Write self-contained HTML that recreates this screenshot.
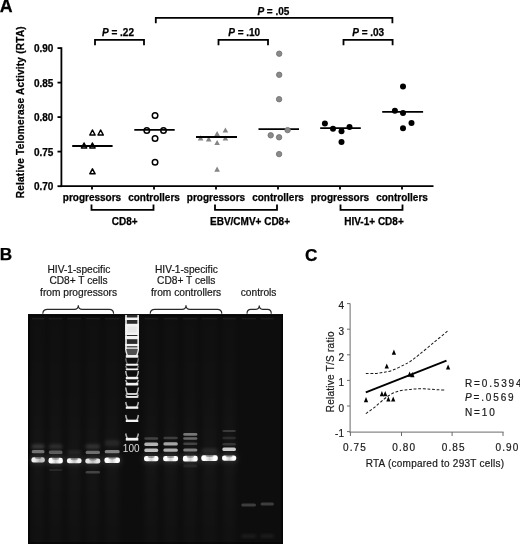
<!DOCTYPE html>
<html><head><meta charset="utf-8">
<style>
html,body{margin:0;padding:0;background:#fff;}
body{width:520px;height:544px;overflow:hidden;}
svg{display:block;}
.b{font-family:"Liberation Sans",Arial,sans-serif;font-weight:bold;font-size:10px;fill:#000;stroke:#000;stroke-width:0.25px;}
.r{font-family:"Liberation Sans",Arial,sans-serif;font-size:10px;fill:#1a1a1a;stroke:#1a1a1a;stroke-width:0.2px;}
</style></head>
<body>
<svg width="520" height="544" viewBox="0 0 520 544">
<defs>
<filter id="bl1" x="-50%" y="-50%" width="200%" height="200%"><feGaussianBlur stdDeviation="0.75"/></filter>
<filter id="bl2" x="-50%" y="-50%" width="200%" height="200%"><feGaussianBlur stdDeviation="1.6"/></filter>
<filter id="bl3" x="-50%" y="-100%" width="200%" height="300%"><feGaussianBlur stdDeviation="2.6"/></filter>
<filter id="bl0" x="-50%" y="-50%" width="200%" height="200%"><feGaussianBlur stdDeviation="0.5"/></filter>
<linearGradient id="sm" x1="0" y1="0" x2="1" y2="0">
  <stop offset="0" stop-color="#fff"/><stop offset="0.22" stop-color="#fff"/><stop offset="0.5" stop-color="#cfcfcf"/><stop offset="0.78" stop-color="#fff"/><stop offset="1" stop-color="#fff"/>
</linearGradient>
<linearGradient id="smL" x1="0" y1="0" x2="1" y2="0">
  <stop offset="0" stop-color="#fff"/><stop offset="0.25" stop-color="#fff"/><stop offset="0.6" stop-color="#c4c4c4"/><stop offset="1" stop-color="#dadada"/>
</linearGradient>
<linearGradient id="lg" x1="0" y1="0" x2="0" y2="1">
  <stop offset="0" stop-color="#fff" stop-opacity="0.01"/><stop offset="0.4" stop-color="#fff" stop-opacity="0.02"/><stop offset="0.6" stop-color="#fff" stop-opacity="0.035"/><stop offset="0.8" stop-color="#fff" stop-opacity="0.025"/><stop offset="1" stop-color="#fff" stop-opacity="0.015"/>
</linearGradient>
</defs>

<!-- ============ PANEL A ============ -->
<text class="b" x="-0.3" y="12.3" style="font-size:17.8px">A</text>

<!-- y axis label -->
<text class="b" transform="translate(24.4,112.2) rotate(-90)" text-anchor="middle" style="font-size:10px;letter-spacing:0.25px">Relative Telomerase Activity (RTA)</text>

<g stroke="#000" stroke-width="1.8" fill="none">
  <line x1="61.4" y1="47.2" x2="61.4" y2="187.1"/>
  <line x1="60.5" y1="186.2" x2="433.5" y2="186.2"/>
  <!-- y ticks -->
  <line x1="57.5" y1="48.1" x2="61" y2="48.1"/>
  <line x1="57.5" y1="82.6" x2="61" y2="82.6"/>
  <line x1="57.5" y1="117.1" x2="61" y2="117.1"/>
  <line x1="57.5" y1="151.6" x2="61" y2="151.6"/>
  <line x1="57.5" y1="186.2" x2="61" y2="186.2"/>
  <!-- x ticks -->
  <line x1="92" y1="186" x2="92" y2="189.5"/>
  <line x1="154" y1="186" x2="154" y2="189.5"/>
  <line x1="216" y1="186" x2="216" y2="189.5"/>
  <line x1="278" y1="186" x2="278" y2="189.5"/>
  <line x1="340" y1="186" x2="340" y2="189.5"/>
  <line x1="402" y1="186" x2="402" y2="189.5"/>
  <!-- bottom group brackets -->
  <polyline points="91.5,204.5 91.5,209.8 153.5,209.8 153.5,204.5"/>
  <polyline points="215,204.5 215,209.8 277,209.8 277,204.5"/>
  <polyline points="340.5,204.5 340.5,209.8 402.5,209.8 402.5,204.5"/>
  <!-- top p-value brackets -->
  <polyline points="95,45.2 95,39.8 144,39.8 144,45.2"/>
  <polyline points="218.5,45.2 218.5,39.8 268,39.8 268,45.2"/>
  <polyline points="343.5,45.2 343.5,39.8 392.6,39.8 392.6,45.2"/>
  <polyline points="155.8,23.2 155.8,17.8 392.4,17.8 392.4,23.2"/>
  <!-- medians -->
  <line x1="72.2" y1="146" x2="112.6" y2="146"/>
  <line x1="134.3" y1="129.9" x2="174.7" y2="129.9"/>
  <line x1="196" y1="137" x2="237" y2="137"/>
  <line x1="258.5" y1="129.1" x2="299" y2="129.1"/>
  <line x1="320.2" y1="128.1" x2="360.8" y2="128.1"/>
  <line x1="382.2" y1="111.8" x2="423.1" y2="111.8"/>
</g>

<!-- y tick labels -->
<g class="b" text-anchor="end">
  <text x="53.4" y="52.3">0.90</text>
  <text x="53.4" y="86.8">0.85</text>
  <text x="53.4" y="121.3">0.80</text>
  <text x="53.4" y="155.8">0.75</text>
  <text x="53.4" y="190.3">0.70</text>
</g>
<!-- x category labels -->
<g class="b" text-anchor="middle">
  <text x="92" y="200.8">progressors</text>
  <text x="154" y="200.8">controllers</text>
  <text x="216" y="200.8">progressors</text>
  <text x="278" y="200.8">controllers</text>
  <text x="340" y="200.8">progressors</text>
  <text x="402" y="200.8">controllers</text>
  <text x="124.7" y="225">CD8+</text>
  <text x="250" y="225">EBV/CMV+ CD8+</text>
  <text x="374" y="225">HIV-1+ CD8+</text>
  <text x="118" y="35.8"><tspan font-style="italic">P</tspan> = .22</text>
  <text x="244.2" y="35.8"><tspan font-style="italic">P</tspan> = .10</text>
  <text x="368.2" y="35.8"><tspan font-style="italic">P</tspan> = .03</text>
  <text x="273.4" y="14.8"><tspan font-style="italic">P</tspan> = .05</text>
</g>

<!-- points - CD8 progressors (open triangles) -->
<g fill="none" stroke="#000" stroke-width="1.5" stroke-linejoin="round">
  <path d="M92.45,130.00 L95.10,135.00 L89.80,135.00 Z"/>
  <path d="M100.65,130.00 L103.30,135.00 L98.00,135.00 Z"/>
  <path d="M84.05,143.00 L86.70,148.00 L81.40,148.00 Z"/>
  <path d="M92.40,143.00 L95.05,148.00 L89.75,148.00 Z"/>
  <path d="M92.45,168.80 L95.10,173.80 L89.80,173.80 Z"/>
</g>
<!-- CD8 controllers (open circles) -->
<g fill="none" stroke="#000" stroke-width="1.5">
  <circle cx="155.05" cy="115.55" r="2.75"/>
  <circle cx="146.80" cy="130.60" r="2.75"/>
  <circle cx="163.50" cy="130.60" r="2.75"/>
  <circle cx="155.05" cy="138.60" r="2.75"/>
  <circle cx="155.05" cy="162.30" r="2.75"/>
</g>
<!-- EBV progressors (gray filled triangles) -->
<g fill="#858585">
  <path d="M225.4,127.4 L228.2,132.5 L222.6,132.5 Z"/>
  <path d="M217.1,130.9 L219.9,136 L214.3,136 Z"/>
  <path d="M200.6,135.3 L203.4,140.4 L197.8,140.4 Z"/>
  <path d="M208.7,136.3 L211.5,141.4 L205.9,141.4 Z"/>
  <path d="M225.4,135.5 L228.2,140.6 L222.6,140.6 Z"/>
  <path d="M217.1,140 L219.9,145.1 L214.3,145.1 Z"/>
  <path d="M217.1,166.6 L219.9,171.7 L214.3,171.7 Z"/>
</g>
<!-- EBV controllers (gray filled circles) -->
<g fill="#8a8a8a" stroke="#747474" stroke-width="0.9">
  <circle cx="279.2" cy="53.7" r="2.7"/>
  <circle cx="279.2" cy="74.8" r="2.7"/>
  <circle cx="279.1" cy="99.2" r="2.7"/>
  <circle cx="287.6" cy="130.1" r="2.7"/>
  <circle cx="270.7" cy="135.3" r="2.7"/>
  <circle cx="279.1" cy="137.3" r="2.7"/>
  <circle cx="279.1" cy="154.1" r="2.7"/>
</g>
<!-- HIV (black filled circles) -->
<g fill="#000">
  <circle cx="324.90" cy="123.50" r="3"/>
  <circle cx="333.00" cy="128.70" r="3"/>
  <circle cx="341.50" cy="131.30" r="3"/>
  <circle cx="349.50" cy="126.90" r="3"/>
  <circle cx="341.50" cy="141.90" r="3"/>
  <circle cx="403.00" cy="86.60" r="3"/>
  <circle cx="394.90" cy="110.80" r="3"/>
  <circle cx="403.00" cy="112.90" r="3"/>
  <circle cx="411.50" cy="123.10" r="3"/>
  <circle cx="403.00" cy="128.20" r="3"/>
</g>
<!-- redraw EBV median on top of gray markers -->
<line x1="196" y1="137" x2="237" y2="137" stroke="#000" stroke-width="1.8"/>

<!-- ============ PANEL B ============ -->
<text class="b" x="-0.2" y="260.1" style="font-size:17.2px">B</text>
<g class="r" text-anchor="middle" style="font-size:10.2px;fill:#151515">
  <text x="78.9" y="272.5">HIV-1-specific</text>
  <text x="78.5" y="284.4">CD8+ T cells</text>
  <text x="78.6" y="295.7">from progressors</text>
  <text x="186.4" y="272.5">HIV-1-specific</text>
  <text x="186.2" y="284.4">CD8+ T cells</text>
  <text x="186.1" y="295.7">from controllers</text>
  <text x="258.6" y="295.7">controls</text>
</g>
<!-- braces -->
<g fill="none" stroke="#2a2a2a" stroke-width="1.15">
  <path d="M42.8,313.8 Q42.8,309.3 47.5,309.3 L74.3,309.3 Q78.3,309.3 78.3,305.2 Q78.3,309.3 82.3,309.3 L109.2,309.3 Q113.6,309.3 113.6,313.8"/>
  <path d="M150.2,313.8 Q150.2,309.3 154.9,309.3 L182,309.3 Q186,309.3 186,305.2 Q186,309.3 190,309.3 L217.3,309.3 Q221.8,309.3 221.8,313.8"/>
  <path d="M247,313.8 Q247,309.3 250.8,309.3 L256,309.3 Q259.3,309.3 259.3,305.6 Q259.3,309.3 262.6,309.3 L267.6,309.3 Q271.3,309.3 271.3,313.8"/>
</g>

<!-- gel -->
<rect x="28" y="314.2" width="255" height="229.8" fill="#0d0d0d"/>
<g id="gel">
<rect x="28" y="314.2" width="2" height="229.8" fill="#050505"/>
<rect x="28" y="314.2" width="255" height="2" fill="#060606"/>
<rect x="28" y="542.2" width="255" height="1.8" fill="#070707"/>
<rect x="281.5" y="314.2" width="1.5" height="229.8" fill="#050505"/>
<rect x="31.9" y="317.9" width="12.4" height="1.4" fill="#1e1e1e" filter="url(#bl0)"/>
<rect x="49.0" y="317.9" width="13.3" height="1.4" fill="#1e1e1e" filter="url(#bl0)"/>
<rect x="67.4" y="317.9" width="13.7" height="1.4" fill="#1e1e1e" filter="url(#bl0)"/>
<rect x="85.8" y="317.9" width="14.0" height="1.4" fill="#1e1e1e" filter="url(#bl0)"/>
<rect x="104.9" y="317.9" width="14.6" height="1.4" fill="#1e1e1e" filter="url(#bl0)"/>
<rect x="144.5" y="317.9" width="13.5" height="1.4" fill="#1e1e1e" filter="url(#bl0)"/>
<rect x="163.6" y="317.9" width="14.0" height="1.4" fill="#1e1e1e" filter="url(#bl0)"/>
<rect x="183.4" y="317.9" width="13.8" height="1.4" fill="#1e1e1e" filter="url(#bl0)"/>
<rect x="201.8" y="317.9" width="15.5" height="1.4" fill="#1e1e1e" filter="url(#bl0)"/>
<rect x="222.6" y="317.9" width="13.1" height="1.4" fill="#1e1e1e" filter="url(#bl0)"/>
<rect x="241.5" y="317.9" width="14.3" height="1.4" fill="#1e1e1e" filter="url(#bl0)"/>
<rect x="260.8" y="317.9" width="12.9" height="1.4" fill="#1e1e1e" filter="url(#bl0)"/>
<rect x="30.4" y="455.7" width="15.4" height="8.2" rx="3" fill="#fff" fill-opacity="0.12" filter="url(#bl3)"/>
<rect x="32.4" y="318" width="11.4" height="226" fill="url(#lg)" filter="url(#bl3)"/>
<rect x="47.5" y="456.3" width="16.3" height="8.6" rx="3" fill="#fff" fill-opacity="0.13" filter="url(#bl3)"/>
<rect x="49.5" y="318" width="12.3" height="226" fill="url(#lg)" filter="url(#bl3)"/>
<rect x="65.9" y="456.8" width="16.7" height="8.0" rx="3" fill="#fff" fill-opacity="0.12" filter="url(#bl3)"/>
<rect x="67.9" y="318" width="12.7" height="226" fill="url(#lg)" filter="url(#bl3)"/>
<rect x="84.3" y="457.1" width="17.0" height="7.8" rx="3" fill="#fff" fill-opacity="0.11" filter="url(#bl3)"/>
<rect x="86.3" y="318" width="13.0" height="226" fill="url(#lg)" filter="url(#bl3)"/>
<rect x="103.4" y="456.0" width="17.6" height="8.4" rx="3" fill="#fff" fill-opacity="0.13" filter="url(#bl3)"/>
<rect x="105.4" y="318" width="13.6" height="226" fill="url(#lg)" filter="url(#bl3)"/>
<rect x="143.0" y="454.6" width="16.5" height="8.2" rx="3" fill="#fff" fill-opacity="0.13" filter="url(#bl3)"/>
<rect x="145.0" y="318" width="12.5" height="226" fill="url(#lg)" filter="url(#bl3)"/>
<rect x="162.1" y="454.6" width="17.0" height="8.2" rx="3" fill="#fff" fill-opacity="0.13" filter="url(#bl3)"/>
<rect x="164.1" y="318" width="13.0" height="226" fill="url(#lg)" filter="url(#bl3)"/>
<rect x="181.9" y="454.3" width="16.8" height="8.8" rx="3" fill="#fff" fill-opacity="0.13" filter="url(#bl3)"/>
<rect x="183.9" y="318" width="12.8" height="226" fill="url(#lg)" filter="url(#bl3)"/>
<rect x="200.3" y="453.7" width="18.5" height="8.8" rx="3" fill="#fff" fill-opacity="0.13" filter="url(#bl3)"/>
<rect x="202.3" y="318" width="14.5" height="226" fill="url(#lg)" filter="url(#bl3)"/>
<rect x="221.1" y="453.9" width="16.1" height="8.4" rx="3" fill="#fff" fill-opacity="0.13" filter="url(#bl3)"/>
<rect x="223.1" y="318" width="12.1" height="226" fill="url(#lg)" filter="url(#bl3)"/>
<rect x="31.4" y="457.2" width="13.4" height="5.2" rx="2.2" fill="url(#smL)" fill-opacity="0.92" filter="url(#bl1)"/>
<ellipse cx="38.1" cy="457.8" rx="3.3" ry="1.3" fill="#000" fill-opacity="0.3" filter="url(#bl0)"/>
<rect x="48.5" y="457.8" width="14.3" height="5.6" rx="2.2" fill="url(#sm)" fill-opacity="1.00" filter="url(#bl1)"/>
<ellipse cx="55.6" cy="458.4" rx="3.6" ry="1.3" fill="#000" fill-opacity="0.3" filter="url(#bl0)"/>
<rect x="66.9" y="458.3" width="14.7" height="5.0" rx="2.2" fill="url(#sm)" fill-opacity="0.95" filter="url(#bl1)"/>
<ellipse cx="74.2" cy="458.9" rx="3.7" ry="1.3" fill="#000" fill-opacity="0.3" filter="url(#bl0)"/>
<rect x="85.3" y="458.6" width="15.0" height="4.8" rx="2.2" fill="url(#sm)" fill-opacity="0.88" filter="url(#bl1)"/>
<ellipse cx="92.8" cy="459.2" rx="3.8" ry="1.3" fill="#000" fill-opacity="0.3" filter="url(#bl0)"/>
<rect x="104.4" y="457.5" width="15.6" height="5.4" rx="2.2" fill="url(#sm)" fill-opacity="1.00" filter="url(#bl1)"/>
<ellipse cx="112.2" cy="458.1" rx="3.9" ry="1.3" fill="#000" fill-opacity="0.3" filter="url(#bl0)"/>
<rect x="144.0" y="456.1" width="14.5" height="5.2" rx="2.2" fill="url(#sm)" fill-opacity="1.00" filter="url(#bl1)"/>
<ellipse cx="151.2" cy="456.7" rx="3.6" ry="1.3" fill="#000" fill-opacity="0.3" filter="url(#bl0)"/>
<rect x="163.1" y="456.1" width="15.0" height="5.2" rx="2.2" fill="url(#sm)" fill-opacity="1.00" filter="url(#bl1)"/>
<ellipse cx="170.6" cy="456.7" rx="3.8" ry="1.3" fill="#000" fill-opacity="0.3" filter="url(#bl0)"/>
<rect x="182.9" y="455.8" width="14.8" height="5.8" rx="2.2" fill="url(#sm)" fill-opacity="1.00" filter="url(#bl1)"/>
<ellipse cx="190.3" cy="456.4" rx="3.7" ry="1.3" fill="#000" fill-opacity="0.3" filter="url(#bl0)"/>
<rect x="201.3" y="455.2" width="16.5" height="5.8" rx="2.2" fill="url(#sm)" fill-opacity="1.00" filter="url(#bl1)"/>
<ellipse cx="209.6" cy="455.8" rx="4.1" ry="1.3" fill="#000" fill-opacity="0.3" filter="url(#bl0)"/>
<rect x="222.1" y="455.4" width="14.1" height="5.4" rx="2.2" fill="url(#sm)" fill-opacity="1.00" filter="url(#bl1)"/>
<ellipse cx="229.1" cy="456.0" rx="3.5" ry="1.3" fill="#000" fill-opacity="0.3" filter="url(#bl0)"/>
<rect x="31.7" y="449.9" width="12.8" height="3.4" rx="1.5" fill="#fff" fill-opacity="0.40" filter="url(#bl1)"/>
<rect x="31.7" y="444.5" width="12.8" height="4.0" rx="1.5" fill="#fff" fill-opacity="0.16" filter="url(#bl2)"/>
<rect x="48.8" y="450.5" width="13.7" height="3.4" rx="1.5" fill="#fff" fill-opacity="0.30" filter="url(#bl1)"/>
<rect x="48.8" y="444.5" width="13.7" height="4.0" rx="1.5" fill="#fff" fill-opacity="0.12" filter="url(#bl2)"/>
<rect x="48.8" y="469.0" width="13.7" height="2.0" rx="1.5" fill="#fff" fill-opacity="0.08" filter="url(#bl1)"/>
<rect x="67.2" y="450.5" width="14.1" height="3.0" rx="1.5" fill="#fff" fill-opacity="0.09" filter="url(#bl2)"/>
<rect x="85.6" y="450.8" width="14.4" height="3.2" rx="1.5" fill="#fff" fill-opacity="0.38" filter="url(#bl1)"/>
<rect x="85.6" y="444.5" width="14.4" height="4.0" rx="1.5" fill="#fff" fill-opacity="0.14" filter="url(#bl2)"/>
<rect x="85.6" y="471.1" width="14.4" height="2.4" rx="1.5" fill="#fff" fill-opacity="0.20" filter="url(#bl1)"/>
<rect x="104.7" y="449.9" width="15.0" height="3.4" rx="1.5" fill="#fff" fill-opacity="0.46" filter="url(#bl1)"/>
<rect x="104.7" y="440.0" width="15.0" height="6.0" rx="1.5" fill="#fff" fill-opacity="0.08" filter="url(#bl2)"/>
<rect x="144.3" y="448.6" width="13.9" height="3.3" rx="1.5" fill="#fff" fill-opacity="0.72" filter="url(#bl1)"/>
<rect x="144.3" y="442.6" width="13.9" height="3.3" rx="1.5" fill="#fff" fill-opacity="0.68" filter="url(#bl1)"/>
<rect x="144.3" y="437.2" width="13.9" height="2.6" rx="1.5" fill="#fff" fill-opacity="0.20" filter="url(#bl1)"/>
<rect x="163.4" y="448.4" width="14.4" height="3.3" rx="1.5" fill="#fff" fill-opacity="0.66" filter="url(#bl1)"/>
<rect x="163.4" y="442.2" width="14.4" height="3.3" rx="1.5" fill="#fff" fill-opacity="0.62" filter="url(#bl1)"/>
<rect x="163.4" y="436.7" width="14.4" height="2.6" rx="1.5" fill="#fff" fill-opacity="0.18" filter="url(#bl1)"/>
<rect x="183.2" y="448.5" width="14.2" height="3.0" rx="1.5" fill="#fff" fill-opacity="0.45" filter="url(#bl1)"/>
<rect x="183.2" y="442.4" width="14.2" height="2.6" rx="1.5" fill="#fff" fill-opacity="0.20" filter="url(#bl1)"/>
<rect x="183.2" y="437.2" width="14.2" height="2.6" rx="1.5" fill="#fff" fill-opacity="0.36" filter="url(#bl1)"/>
<rect x="183.2" y="433.1" width="14.2" height="2.6" rx="1.5" fill="#fff" fill-opacity="0.42" filter="url(#bl1)"/>
<rect x="183.2" y="464.5" width="14.2" height="3.0" rx="1.5" fill="#fff" fill-opacity="0.06" filter="url(#bl1)"/>
<rect x="201.6" y="448.5" width="15.9" height="3.0" rx="1.5" fill="#fff" fill-opacity="0.10" filter="url(#bl2)"/>
<rect x="222.4" y="447.6" width="13.5" height="3.5" rx="1.5" fill="#fff" fill-opacity="0.78" filter="url(#bl1)"/>
<rect x="222.4" y="442.9" width="13.5" height="2.6" rx="1.5" fill="#fff" fill-opacity="0.14" filter="url(#bl1)"/>
<rect x="222.4" y="429.9" width="13.5" height="2.2" rx="1.5" fill="#fff" fill-opacity="0.16" filter="url(#bl1)"/>
<rect x="222.4" y="436.8" width="13.5" height="2.4" rx="1.5" fill="#fff" fill-opacity="0.10" filter="url(#bl1)"/>
<rect x="241.3" y="503.4" width="14.7" height="3.0" rx="1.5" fill="#fff" fill-opacity="0.20" filter="url(#bl1)"/>
<rect x="260.6" y="502.4" width="13.3" height="3.0" rx="1.5" fill="#fff" fill-opacity="0.20" filter="url(#bl1)"/>
<rect x="241.3" y="534.8" width="14.7" height="2.6" rx="1.5" fill="#fff" fill-opacity="0.09" filter="url(#bl2)"/>
<rect x="260.6" y="534.8" width="13.3" height="2.6" rx="1.5" fill="#fff" fill-opacity="0.09" filter="url(#bl2)"/>
<g filter="url(#bl0)"><rect x="125.2" y="315" width="1.7" height="34" fill="#f2f2f2"/><rect x="137.2" y="315" width="1.7" height="34" fill="#f2f2f2"/><rect x="126.9" y="315" width="10.3" height="34" fill="#2a2a2a"/><rect x="125.2" y="317.5" width="13.7" height="2.5" fill="#f2f2f2"/><rect x="125.2" y="323.8" width="13.7" height="11.2" fill="#f2f2f2"/><rect x="125.2" y="336.0" width="13.7" height="3.2" fill="#f2f2f2"/><rect x="125.2" y="343.9" width="13.7" height="2.3" fill="#f2f2f2"/><rect x="125.2" y="347.4" width="13.7" height="1.4" fill="#f2f2f2"/><rect x="127.4" y="326.5" width="9.3" height="6" fill="#e6e6e6"/><rect x="126.9" y="349" width="10.3" height="6.2" fill="#505050"/><path d="M125.7,348.8 Q126.6,355.6 128.2,355.7 L135.9,355.7 Q137.5,355.6 138.4,348.8" fill="none" stroke="#e8e8e8" stroke-width="1.5"/><rect x="125.8" y="355.1" width="12.5" height="2.6" fill="#f2f2f2"/><path d="M125.7,358.3 Q126.6,364.3 128.2,364.4 L135.9,364.4 Q137.5,364.3 138.4,358.3" fill="none" stroke="#6a6a6a" stroke-width="1.5"/><rect x="125.8" y="363.8" width="12.5" height="1.9" fill="#f2f2f2"/><path d="M125.7,366.0 Q126.6,369.1 128.2,369.2 L135.9,369.2 Q137.5,369.1 138.4,366.0" fill="none" stroke="#777" stroke-width="1.5"/><rect x="125.8" y="368.6" width="12.5" height="1.6" fill="#f2f2f2"/><path d="M125.7,371.0 Q126.6,377.5 128.2,377.6 L135.9,377.6 Q137.5,377.5 138.4,371.0" fill="none" stroke="#c0c0c0" stroke-width="1.5"/><rect x="125.8" y="377.0" width="12.5" height="2.3" fill="#f2f2f2"/><path d="M125.7,380.0 Q126.6,383.5 128.2,383.6 L135.9,383.6 Q137.5,383.5 138.4,380.0" fill="none" stroke="#aaa" stroke-width="1.5"/><rect x="125.8" y="383.0" width="12.5" height="2.5" fill="#f2f2f2"/><path d="M125.7,387.5 Q126.6,393.9 128.2,394.0 L135.9,394.0 Q137.5,393.9 138.4,387.5" fill="none" stroke="#c0c0c0" stroke-width="1.5"/><rect x="125.8" y="393.4" width="12.5" height="1.2" fill="#f2f2f2"/><path d="M125.7,395.0 Q126.6,396.7 128.2,396.8 L135.9,396.8 Q137.5,396.7 138.4,395.0" fill="none" stroke="#c0c0c0" stroke-width="1.5"/><rect x="125.8" y="396.2" width="12.5" height="1.6" fill="#f2f2f2"/><path d="M125.7,402.0 Q126.6,407.1 128.2,407.2 L135.9,407.2 Q137.5,407.1 138.4,402.0" fill="none" stroke="#b0b0b0" stroke-width="1.5"/><rect x="125.8" y="406.6" width="12.5" height="2.2" fill="#f2f2f2"/><path d="M125.7,415.0 Q126.6,420.3 128.2,420.4 L135.9,420.4 Q137.5,420.3 138.4,415.0" fill="none" stroke="#b0b0b0" stroke-width="1.5"/><rect x="125.8" y="419.8" width="12.5" height="2.2" fill="#f2f2f2"/><path d="M125.7,433.5 Q126.6,438.5 128.2,438.6 L135.9,438.6 Q137.5,438.5 138.4,433.5" fill="none" stroke="#b0b0b0" stroke-width="1.5"/><rect x="125.8" y="438.0" width="12.5" height="2.6" fill="#f2f2f2"/></g>
<text x="131.2" y="451.5" text-anchor="middle" style="font-family:'Liberation Sans',Arial,sans-serif;font-size:10px;fill:#dcdcdc">100</text>
</g>

<!-- ============ PANEL C ============ -->
<text class="b" x="304.9" y="260.6" style="font-size:17.2px">C</text>
<text class="r" transform="translate(333.6,371.8) rotate(-90)" text-anchor="middle" style="letter-spacing:0.25px">Relative T/S ratio</text>
<g stroke="#6a6a6a" stroke-width="1" fill="none">
  <line x1="350.1" y1="303.4" x2="350.1" y2="432.6"/>
  <line x1="349.6" y1="432.1" x2="503.5" y2="432.1"/>
  <line x1="347" y1="303.6" x2="350" y2="303.6"/>
  <line x1="347" y1="329.2" x2="350" y2="329.2"/>
  <line x1="347" y1="354.8" x2="350" y2="354.8"/>
  <line x1="347" y1="380.4" x2="350" y2="380.4"/>
  <line x1="347" y1="406" x2="350" y2="406"/>
  <line x1="347" y1="431.6" x2="350" y2="431.6"/>
  <line x1="350.4" y1="432" x2="350.4" y2="436"/>
  <line x1="401.5" y1="432" x2="401.5" y2="436"/>
  <line x1="452.1" y1="432" x2="452.1" y2="436"/>
  <line x1="503" y1="432" x2="503" y2="436"/>
</g>
<g class="r" text-anchor="end" style="font-size:10px">
  <text x="344" y="309.2">4</text>
  <text x="344" y="334.8">3</text>
  <text x="344" y="360.5">2</text>
  <text x="344" y="386.1">1</text>
  <text x="344" y="411.7">0</text>
  <text x="344" y="437.2">-1</text>
</g>
<g class="r" text-anchor="middle" style="letter-spacing:1.1px">
  <text x="355" y="451.3">0.75</text>
  <text x="404.2" y="451.3">0.80</text>
  <text x="453.75" y="451.3">0.85</text>
  <text x="507.5" y="451.3">0.90</text>
</g>
<text class="r" x="435" y="466.5" text-anchor="middle" style="letter-spacing:0.25px">RTA (compared to 293T cells)</text>
<g class="r" style="letter-spacing:1.85px">
  <text x="465" y="386.5">R=0.5394</text>
  <text x="465" y="401"><tspan font-style="italic">P</tspan>=.0569</text>
  <text x="465" y="415.6">N=10</text>
</g>
<!-- regression + CI -->
<line x1="365.8" y1="392.4" x2="446.5" y2="360.6" stroke="#000" stroke-width="2"/>
<g fill="none" stroke="#1a1a1a" stroke-width="1.05" stroke-dasharray="2.8,1.8">
  <path d="M365.8,373.5 C367.3,373.5 372.1,373.6 375.0,373.4 C377.9,373.2 380.1,372.9 383.0,372.4 C385.9,371.9 388.9,371.5 392.3,370.3 C395.7,369.1 400.6,366.6 403.5,365.1 C406.4,363.7 407.4,363.3 410.0,361.6 C412.6,359.9 415.3,357.8 419.1,354.7 C422.9,351.6 428.3,347.1 433.0,343.2 C437.7,339.3 445.1,333.1 447.5,331.1"/>
  <path d="M365.8,413.6 C367.2,412.6 371.4,409.8 374.4,407.4 C377.4,405.0 381.3,401.4 384.0,399.2 C386.7,397.0 388.4,395.8 390.8,394.4 C393.2,393.0 395.7,391.9 398.5,391.1 C401.3,390.3 404.9,390.1 407.7,389.7 C410.5,389.3 412.7,389.0 415.4,388.9 C418.1,388.8 421.3,388.7 424.0,388.8 C426.7,388.9 429.3,389.1 431.7,389.3 C434.1,389.5 436.3,389.7 438.5,389.8 C440.7,389.9 443.9,390.1 445.0,390.1"/>
</g>
<g fill="#000">
  <path d="M366.00,397.10 L368.15,402.30 L363.85,402.30 Z"/>
  <path d="M381.90,391.10 L384.05,396.30 L379.75,396.30 Z"/>
  <path d="M385.20,391.10 L387.35,396.30 L383.05,396.30 Z"/>
  <path d="M388.40,396.40 L390.55,401.60 L386.25,401.60 Z"/>
  <path d="M393.20,396.40 L395.35,401.60 L391.05,401.60 Z"/>
  <path d="M386.75,363.40 L388.90,368.60 L384.60,368.60 Z"/>
  <path d="M393.90,349.50 L396.05,354.70 L391.75,354.70 Z"/>
  <path d="M409.60,371.60 L411.75,376.80 L407.45,376.80 Z"/>
  <path d="M412.40,372.00 L414.55,377.20 L410.25,377.20 Z"/>
  <path d="M448.10,364.40 L450.25,369.60 L445.95,369.60 Z"/>
</g>
</svg>
</body></html>
